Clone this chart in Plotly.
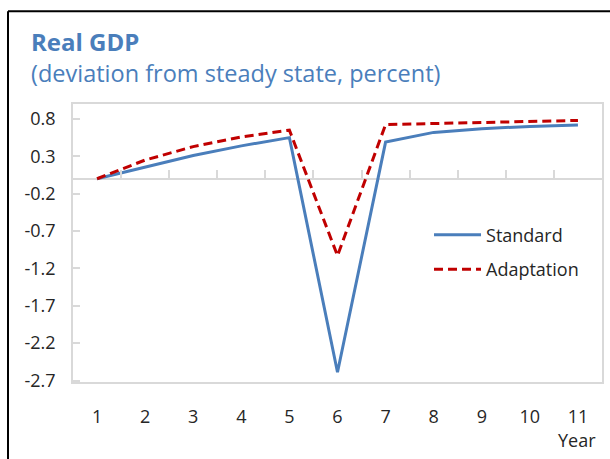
import plotly.graph_objects as go

years = [1, 2, 3, 4, 5, 6, 7, 8, 9, 10, 11]
standard = [0.0, 0.16, 0.31, 0.44, 0.55, -2.59, 0.49, 0.62, 0.67, 0.70, 0.72]
adaptation = [0.0, 0.25, 0.43, 0.56, 0.65, -1.03, 0.725, 0.74, 0.755, 0.77, 0.78]
y_ticks = [0.8, 0.3, -0.2, -0.7, -1.2, -1.7, -2.2, -2.7]
x_boundaries = [1.5, 2.5, 3.5, 4.5, 5.5, 6.5, 7.5, 8.5, 9.5, 10.5]

FONT = "Open Sans"
BLUE = "#4a7ebb"
RED = "#c00000"
GRID = "#d9d9d9"
TXT = "#262626"

fig = go.Figure()
fig.add_trace(go.Scatter(x=years, y=standard, mode="lines", name="Standard",
                         line=dict(color=BLUE, width=3), legendgroup="a"))
fig.add_trace(go.Scatter(x=years, y=adaptation, mode="lines", name="Adaptation",
                         line=dict(color=RED, width=3, dash="9px,5px"), legendgroup="b"))
# invisible trace on the tick axis at zero line
fig.add_trace(go.Scatter(x=[years[0]], y=[0], xaxis="x2", mode="markers",
                         marker=dict(opacity=0), showlegend=False, hoverinfo="skip"))

ymin, ymax = -2.72, 1.0
zero_frac = (0 - ymin) / (ymax - ymin)

fig.update_layout(
    width=610, height=459,
    margin=dict(l=73, r=8, t=104, b=77, autoexpand=False),
    paper_bgcolor="white", plot_bgcolor="white",
    font=dict(family=FONT, size=18, color=TXT),
    showlegend=True,
    legend=dict(x=0.673, y=0.595, xanchor="left", yanchor="top", itemwidth=47,
                font=dict(size=18, color=TXT), bgcolor="rgba(0,0,0,0)",
                traceorder="grouped", tracegroupgap=8),
    xaxis=dict(range=[0.5, 11.5], tickvals=years, ticks="", showgrid=False,
               zeroline=False, showline=True, mirror=True, linecolor=GRID, linewidth=1.5,
               automargin=False, ticklabelstandoff=18, tickfont=dict(size=18, color=TXT)),
    xaxis2=dict(range=[0.5, 11.5], overlaying="x", anchor="free", position=zero_frac,
                side="bottom", tickvals=x_boundaries, ticks="inside", ticklen=9,
                tickcolor=GRID, tickwidth=1.5, showticklabels=False, showgrid=False,
                zeroline=False, showline=False, automargin=False),
    yaxis=dict(range=[ymin, ymax], tickvals=y_ticks, ticktext=[f"{v:.1f}" for v in y_ticks],
               ticks="inside", ticklen=7, tickcolor=GRID, tickwidth=1.5,
               showgrid=False, zeroline=True, zerolinecolor=GRID, zerolinewidth=1.5,
               showline=True, mirror=True, linecolor=GRID, linewidth=1.5,
               automargin=False, ticklabelstandoff=12, tickfont=dict(size=18, color=TXT)),
)

def px_x(p):
    return (p - 73) / 529

def px_y(p):
    return (382 - p) / 277.5

# outer frame (left and top)
fig.add_shape(type="line", xref="paper", yref="paper", x0=px_x(8), x1=px_x(8),
              y0=px_y(12), y1=px_y(470), line=dict(color="black", width=2))
fig.add_shape(type="line", xref="paper", yref="paper", x0=px_x(8), x1=px_x(620),
              y0=px_y(12), y1=px_y(12), line=dict(color="black", width=2))

fig.add_annotation(text="<b>Real GDP</b>", xref="paper", yref="paper",
                   x=px_x(29), y=px_y(24), xanchor="left", yanchor="top",
                   showarrow=False, font=dict(family=FONT, size=24, color=BLUE))
fig.add_annotation(text="(deviation from steady state, percent)", xref="paper", yref="paper",
                   x=px_x(29), y=px_y(56), xanchor="left", yanchor="top",
                   showarrow=False, font=dict(family=FONT, size=23.5, color=BLUE))
fig.add_annotation(text="Year", xref="paper", yref="paper",
                   x=px_x(598), y=px_y(440), xanchor="right", yanchor="middle",
                   showarrow=False, font=dict(family=FONT, size=18, color=TXT))

fig.write_html("out.html", config={"displayModeBar": False},
               post_script="document.body.style.margin='0';")
